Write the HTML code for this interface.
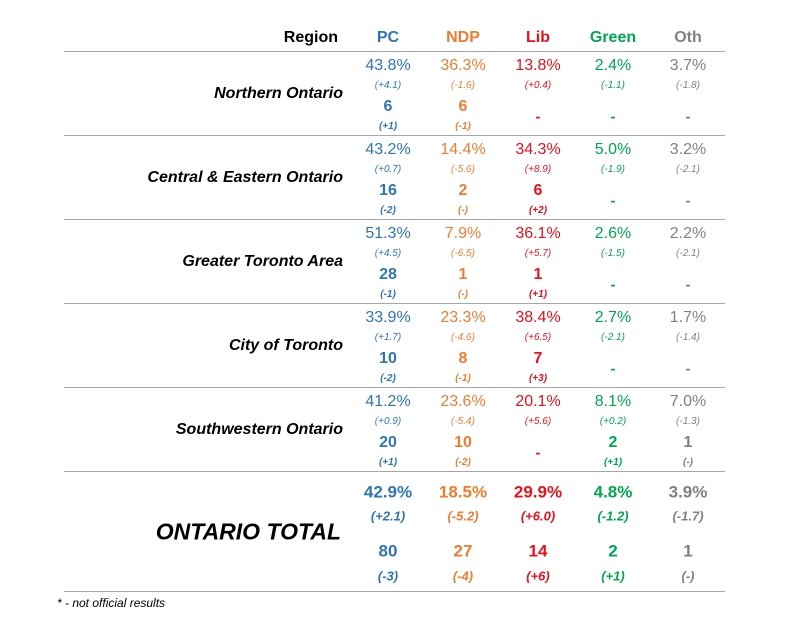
<!DOCTYPE html>
<html><head><meta charset="utf-8">
<style>
body{margin:0;width:790px;height:634px;background:#fff;font-family:"Liberation Sans",sans-serif;position:relative;overflow:hidden}
.t{position:absolute;white-space:nowrap;transform:translate(-50%,-50%);line-height:1}
.r{position:absolute;white-space:nowrap;transform:translate(-100%,-50%);line-height:1}
.ln{position:absolute;left:64px;width:661px;height:1px;background:#a6a6a6}
</style></head><body>
<div id="root"></div>
<script>
const parties=["PC","NDP","Lib","Green","Oth"];
const colors=["#2e75b6","#ed7d31","#e8101a","#00a650","#808080"];
const regions=["Northern Ontario","Central & Eastern Ontario","Greater Toronto Area","City of Toronto","Southwestern Ontario"];
const pct=[["43.8%","36.3%","13.8%","2.4%","3.7%"],["43.2%","14.4%","34.3%","5.0%","3.2%"],["51.3%","7.9%","36.1%","2.6%","2.2%"],["33.9%","23.3%","38.4%","2.7%","1.7%"],["41.2%","23.6%","20.1%","8.1%","7.0%"]];
const pctChg=[["(+4.1)","(-1.6)","(+0.4)","(-1.1)","(-1.8)"],["(+0.7)","(-5.6)","(+8.9)","(-1.9)","(-2.1)"],["(+4.5)","(-6.5)","(+5.7)","(-1.5)","(-2.1)"],["(+1.7)","(-4.6)","(+6.5)","(-2.1)","(-1.4)"],["(+0.9)","(-5.4)","(+5.6)","(+0.2)","(-1.3)"]];
const seats=[["6","6","-","-","-"],["16","2","6","-","-"],["28","1","1","-","-"],["10","8","7","-","-"],["20","10","-","2","1"]];
const seatChg=[["(+1)","(-1)","","",""],["(-2)","(-)","(+2)","",""],["(-1)","(-)","(+1)","",""],["(-2)","(-1)","(+3)","",""],["(+1)","(-2)","","(+1)","(-)"]];
const totPct=["42.9%","18.5%","29.9%","4.8%","3.9%"];
const totPctChg=["(+2.1)","(-5.2)","(+6.0)","(-1.2)","(-1.7)"];
const totSeats=["80","27","14","2","1"];
const totSeatChg=["(-3)","(-4)","(+6)","(+1)","(-)"];
const root=document.getElementById('root');
const cx=[388,463,538,613,688];
function add(cls,x,y,txt,style,name){const d=document.createElement('div');d.className=cls;d.style.left=x+'px';d.style.top=y+'px';d.textContent=txt;d.style.cssText+=style;


root.appendChild(d);}
function line(y){const d=document.createElement('div');d.className='ln';d.style.top=y+'px';


root.appendChild(d);}
add('r',338,38,'Region','font-weight:bold;font-size:16px;color:#000','region-header');
parties.forEach((p,i)=>add('t',cx[i],38,p,'font-weight:bold;font-size:16px;color:'+colors[i],'party-header-'+p.toLowerCase()));
line(51);
regions.forEach((rg,r)=>{const y0=51+84*r;
 add('r',343,y0+43,rg,'font-weight:bold;font-style:italic;font-size:16px;color:#000','region-label');
 parties.forEach((p,i)=>{const c='color:'+colors[i];
  add('t',cx[i],y0+15,pct[r][i],'font-size:16px;'+c,'vote-share');
  add('t',cx[i],y0+35,pctChg[r][i],'font-size:10px;font-style:italic;'+c,'vote-change');
  if(seats[r][i]==='-'){add('t',cx[i],y0+66,'-','font-size:15px;font-weight:bold;'+c,'seats');}
  else{add('t',cx[i],y0+56,seats[r][i],'font-size:16px;font-weight:bold;'+c,'seats');
   add('t',cx[i],y0+76,seatChg[r][i],'font-size:10px;font-weight:bold;font-style:italic;'+c,'seat-change');}
 });
 line(y0+84);
});
add('r',341,532,'ONTARIO TOTAL','font-weight:bold;font-style:italic;font-size:23px;color:#000','total-label');
parties.forEach((p,i)=>{const c='color:'+colors[i];
 add('t',cx[i],492,totPct[i],'font-size:17px;font-weight:bold;'+c,'total-vote-share');
 add('t',cx[i],516,totPctChg[i],'font-size:13px;font-weight:bold;font-style:italic;'+c,'total-vote-change');
 add('t',cx[i],551,totSeats[i],'font-size:17px;font-weight:bold;'+c,'total-seats');
 add('t',cx[i],576,totSeatChg[i],'font-size:13px;font-weight:bold;font-style:italic;'+c,'total-seat-change');
});
line(591);
const f=document.createElement('div');f.textContent='* - not official results';
f.style.cssText='position:absolute;left:57px;top:596px;font-size:12px;font-style:italic;color:#000';


root.appendChild(f);
</script>
</body></html>
